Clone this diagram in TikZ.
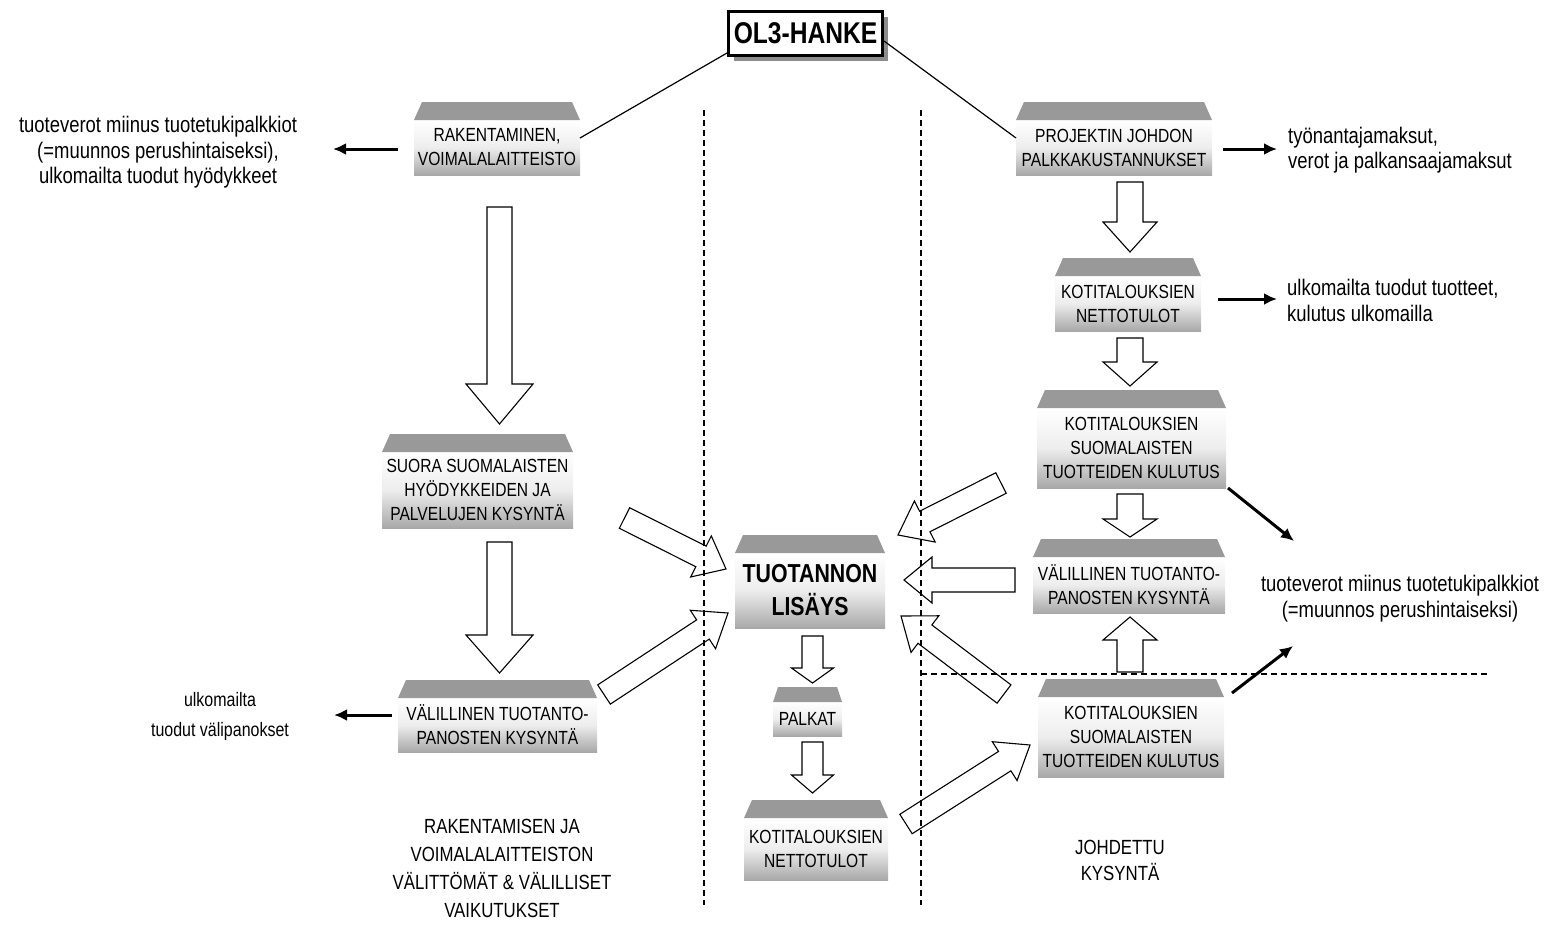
\documentclass[tikz,border=0pt]{standalone}
\usepackage{fontspec}
\setmainfont{Liberation Sans}[FakeStretch=0.82]
\usetikzlibrary{calc,arrows.meta,shadows}
\definecolor{roofc}{gray}{0.6}
\newcommand\hollowarrow[5]{%
  \coordinate (ha-h) at ($(#2)!#5!(#1)$);
  \draw[hollow] ($(#1)!#3!90:(#2)$) -- ($(ha-h)!#3!-90:(#1)$) -- ($(ha-h)!#4!-90:(#1)$) -- (#2)
    -- ($(ha-h)!#4!90:(#1)$) -- ($(ha-h)!#3!90:(#1)$) -- ($(#1)!#3!-90:(#2)$) -- cycle;}
\newcommand\roof[3]{% node, inset, height
  \fill[roofc] (#1.north west) -- ([xshift=#2pt,yshift=#3pt]#1.north west)
    -- ([xshift=-#2pt,yshift=#3pt]#1.north east) -- (#1.north east) -- cycle;}
\begin{document}
\begin{tikzpicture}[x=1pt,y=-1pt,
  gbox/.style={rectangle, inner sep=0pt, outer sep=0pt, align=center,
    top color=white, bottom color=black!34, middle color=black!7,
    font=\fontsize{19}{24}\selectfont},
  gb/.style n args={2}{gbox, minimum width=#1pt, minimum height=#2pt},
  hollow/.style={draw=black, fill=white, line width=1.1pt, line join=miter},
  blk/.style={line width=3pt, -{Latex[length=13pt,width=12pt]}},
  dsh/.style={line width=1.2pt, dash pattern=on 6pt off 4pt},
  ext/.style={align=center, inner sep=0pt, font=\fontsize{22.5}{25.5}\selectfont},
  lbl/.style={align=center, inner sep=0pt, font=\fontsize{20.5}{28}\selectfont},
  thin/.style={line width=1.2pt}
]
\useasboundingbox (0,0) rectangle (1549,924);

% boxes
\node[draw, line width=3pt, fill=white, minimum width=154pt, minimum height=44pt, inner sep=0pt,
  drop shadow={shadow xshift=5pt, shadow yshift=-5pt, fill=black!45, opacity=1},
  font=\fontsize{30}{34}\selectfont\bfseries] (ol3) at (805.5,33.5) {OL3-HANKE};

\node[gb={166}{55}] (rak) at (497,147.5) {RAKENTAMINEN,\\VOIMALALAITTEISTO};
\node[gb={196}{55}] (proj) at (1114,147.5) {PROJEKTIN JOHDON\\PALKKAKUSTANNUKSET};
\node[gb={191}{76}] (suora) at (477.5,490) {SUORA SUOMALAISTEN\\HYÖDYKKEIDEN JA\\PALVELUJEN KYSYNTÄ};
\node[gb={199}{54}] (valL) at (497.5,725) {VÄLILLINEN TUOTANTO-\\PANOSTEN KYSYNTÄ};
\node[gb={150}{75}, font=\fontsize{26}{33}\selectfont\bfseries] (tuot) at (810,590.5) {TUOTANNON\\LISÄYS};
\node[gb={69}{34}] (palk) at (807.5,719) {PALKAT};
\node[gb={144}{62}] (nettoC) at (816,849) {KOTITALOUKSIEN\\NETTOTULOT};
\node[gb={146}{55}] (nettoR) at (1128,303.5) {KOTITALOUKSIEN\\NETTOTULOT};
\node[gb={189}{80}] (kotU) at (1131.5,448) {KOTITALOUKSIEN\\SUOMALAISTEN\\TUOTTEIDEN KULUTUS};
\node[gb={192}{56}] (valR) at (1129,585) {VÄLILLINEN TUOTANTO-\\PANOSTEN KYSYNTÄ};
\node[gb={186}{80}] (kotL) at (1131,737) {KOTITALOUKSIEN\\SUOMALAISTEN\\TUOTTEIDEN KULUTUS};

\foreach \n in {rak,proj,suora,valL,tuot,nettoC,nettoR,kotU,valR,kotL} {\roof{\n}{8}{18}}
\roof{palk}{5}{15}

% lines from OL3
\draw[thin] ([yshift=4pt]ol3.south west) -- ([yshift=9.5pt]rak.east);
\draw[thin] ([yshift=-7.5pt]ol3.east) -- ([yshift=9.5pt]proj.west);

% hollow arrows
\coordinate (a1t) at (499.5,207); \coordinate (a1h) at (499.5,424);
\coordinate (a2t) at (499.5,542); \coordinate (a2h) at (499.5,673);
\coordinate (a3t) at (1130,182);  \coordinate (a3h) at (1130,252);
\coordinate (a4t) at (1130,338);  \coordinate (a4h) at (1130,386);
\coordinate (a5t) at (1130,494);  \coordinate (a5h) at (1130,537);
\coordinate (a6t) at (1130,672);  \coordinate (a6h) at (1130,617);
\coordinate (a7t) at (812.5,636); \coordinate (a7h) at (812.5,683);
\coordinate (a8t) at (812.5,742); \coordinate (a8h) at (812.5,793);
\coordinate (d1t) at (624.5,518); \coordinate (d1h) at (726,569);
\coordinate (d2t) at (604,694.5); \coordinate (d2h) at (728,613);
\coordinate (d3t) at (1001,483);  \coordinate (d3h) at (898,535);
\coordinate (d4t) at (1015,580);  \coordinate (d4h) at (904,580);
\coordinate (d5t) at (1004,694);  \coordinate (d5h) at (901,616);
\coordinate (d6t) at (906,824);   \coordinate (d6h) at (1030,745);

\hollowarrow{a1t}{a1h}{12.5pt}{33.5pt}{40pt}
\hollowarrow{a2t}{a2h}{12.5pt}{33.5pt}{38pt}
\hollowarrow{a3t}{a3h}{13pt}{27pt}{30pt}
\hollowarrow{a4t}{a4h}{13pt}{27pt}{24pt}
\hollowarrow{a5t}{a5h}{13pt}{27pt}{18pt}
\hollowarrow{a6t}{a6h}{13pt}{27pt}{23pt}
\hollowarrow{a7t}{a7h}{10.5pt}{21pt}{15pt}
\hollowarrow{a8t}{a8h}{10.5pt}{21pt}{18pt}
\hollowarrow{d1t}{d1h}{11.5pt}{23pt}{28pt}
\hollowarrow{d2t}{d2h}{11.5pt}{23pt}{30pt}
\hollowarrow{d3t}{d3h}{11.5pt}{23pt}{30pt}
\hollowarrow{d4t}{d4h}{12pt}{23pt}{28pt}
\hollowarrow{d5t}{d5h}{11.5pt}{23pt}{30pt}
\hollowarrow{d6t}{d6h}{11.5pt}{23pt}{30pt}

% dashed separators
\coordinate (v1t) at (704,110); \coordinate (v1b) at (704,905);
\coordinate (v2t) at (921,110); \coordinate (v2b) at (921,905);
\coordinate (h1l) at (921,674); \coordinate (h1r) at (1487,674);
\draw[dsh] (v1t) -- (v1b);
\draw[dsh] (v2t) -- (v2b);
\draw[dsh] (h1l) -- (h1r);

% black arrows
\coordinate (b1s) at (398,149); \coordinate (b1e) at (333,149);
\coordinate (b2s) at (392,715); \coordinate (b2e) at (334,715);
\coordinate (b3s) at (1223,149); \coordinate (b3e) at (1277,149);
\coordinate (b4s) at (1218,299); \coordinate (b4e) at (1277,299);
\coordinate (b5s) at (1228,488); \coordinate (b5e) at (1294,541);
\coordinate (b6s) at (1232,693); \coordinate (b6e) at (1293,646);
\draw[blk] (b1s) -- (b1e);
\draw[blk] (b2s) -- (b2e);
\draw[blk] (b3s) -- (b3e);
\draw[blk] (b4s) -- (b4e);
\draw[blk] (b5s) -- (b5e);
\draw[blk] (b6s) -- (b6e);

% texts
\node[ext] (t1) at (158,152.5) {tuoteverot miinus tuotetukipalkkiot\\(=muunnos perushintaiseksi),\\ulkomailta tuodut hyödykkeet};
\node[ext, align=left, anchor=west] (t2) at (1288,150) {työnantajamaksut,\\verot ja palkansaajamaksut};
\node[ext, align=left, anchor=west] (t3) at (1287,300.5) {ulkomailta tuodut tuotteet,\\kulutus ulkomailla};
\node[ext] (t4) at (1400,598.5) {tuoteverot miinus tuotetukipalkkiot\\(=muunnos perushintaiseksi)};
\node[ext, font=\fontsize{19.5}{30}\selectfont] (t5) at (220,716) {ulkomailta\\tuodut välipanokset};
\node[lbl] (t6) at (502,868) {RAKENTAMISEN JA\\VOIMALALAITTEISTON\\VÄLITTÖMÄT \& VÄLILLISET\\VAIKUTUKSET};
\node[lbl, font=\fontsize{20.5}{26}\selectfont] (t7) at (1120,860) {JOHDETTU\\KYSYNTÄ};
\end{tikzpicture}
\end{document}
